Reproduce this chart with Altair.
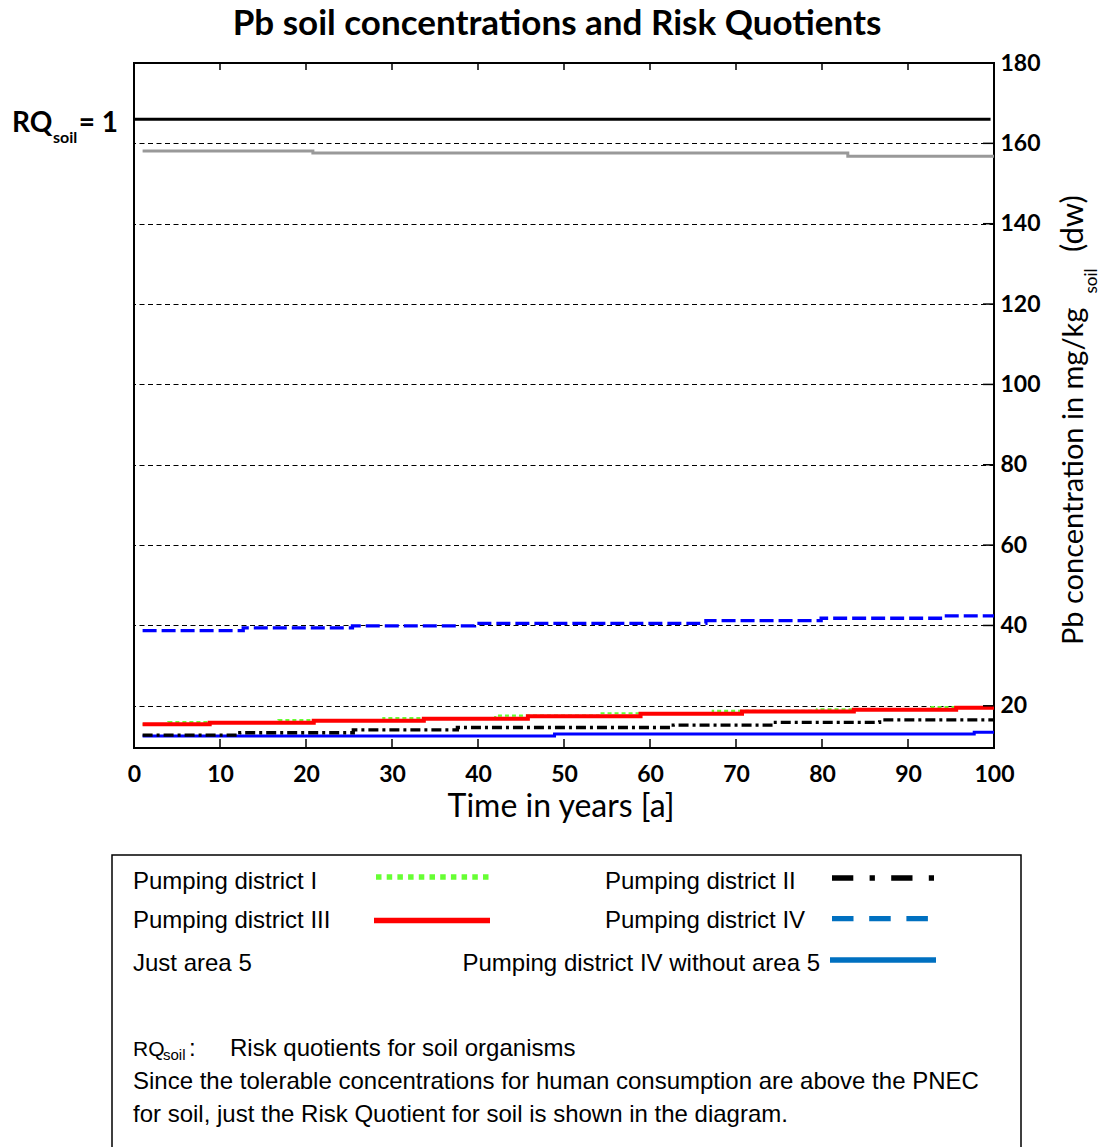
import altair as alt
import pandas as pd

# ---- data: Pb soil concentration (mg/kg dw) at the years where each series changes ----
rq_years = [0, 99.6]
rq_values = [166, 166]  # PNEC soil, i.e. RQ_soil = 1

area5_years = [1, 20.8, 83.0, 100]
area5_values = [158.1, 157.6, 156.8, 156.8]

d1_years = [1, 4.0, 16.8, 29.0, 42.0, 54.1, 67.3, 79.4, 92.5, 100]
d1_values = [15.4, 15.95, 16.45, 16.95, 17.55, 18.15, 18.75, 19.15, 19.65, 19.65]

d2_years = [1, 12.3, 25.5, 37.6, 62.7, 74.3, 86.7, 100]
d2_values = [12.7, 13.3, 14.0, 14.6, 15.2, 15.9, 16.5, 16.5]

d3_years = [1, 8.8, 20.9, 33.7, 45.8, 58.9, 70.7, 83.7, 95.6, 100]
d3_values = [15.4, 15.8, 16.3, 16.8, 17.4, 18.0, 18.6, 19.0, 19.5, 19.5]

d4_years = [1, 12.7, 25.4, 39.6, 66.5, 79.9, 94.0, 100]
d4_values = [38.7, 39.4, 39.9, 40.5, 41.2, 41.8, 42.4, 42.4]

d4x_years = [1, 48.9, 97.7, 100]
d4x_values = [12.5, 13.0, 13.4, 13.4]

x_ticks = [0, 10, 20, 30, 40, 50, 60, 70, 80, 90, 100]
y_ticks = [20, 40, 60, 80, 100, 120, 140, 160, 180]

legend_labels = [
    "Pumping district I",
    "Pumping district II",
    "Pumping district III",
    "Pumping district IV",
    "Just area 5",
    "Pumping district IV without area 5",
]
note_lines = [
    "Risk quotients for soil organisms",
    "Since the tolerable concentrations for human consumption are above the PNEC",
    "for soil, just the Risk Quotient for soil is shown in the diagram.",
]

series = [
    ("rq", rq_years, rq_values),
    ("area5", area5_years, area5_values),
    ("d1", d1_years, d1_values),
    ("d2", d2_years, d2_values),
    ("d3", d3_years, d3_values),
    ("d4", d4_years, d4_values),
    ("d4x", d4x_years, d4x_values),
]
rows = []
for key, yrs, vals in series:
    for yr, v in zip(yrs, vals):
        rows.append({"series": key, "year": yr, "value": v})
df = pd.DataFrame(rows)

# ---- layout ----
W, H = 860, 685
LEFT, TOP = 134, 63
TOTAL_W, TOTAL_H = 1104, 1147

CAL = "Lato"
ARIAL = "Liberation Sans"

x_scale = alt.Scale(domain=[0, 100], nice=False, zero=False)
y_scale = alt.Scale(domain=[9.5, 180], nice=False, zero=False)

x_axis = alt.Axis(
    values=x_ticks, title=None, ticks=False, tickSize=0, domain=False, grid=False,
    labelFont=CAL, labelFontWeight="bold", labelFontSize=23, labelColor="black",
    labelBaseline="alphabetic", labelPadding=33, labelFlush=False, labelOverlap=False,
)
y_axis = alt.Axis(
    orient="right", values=y_ticks, title=None, ticks=False, tickSize=0, domain=False,
    grid=True, gridColor="black", gridDash=[5, 3.5], gridWidth=1.2, gridOpacity=1,
    labelFont=CAL, labelFontWeight="bold", labelFontSize=23, labelColor="black",
    labelPadding=6, labelOverlap=False, labelFlush=False,
)

X = alt.X("year:Q", scale=x_scale, axis=x_axis)
Y = alt.Y("value:Q", scale=y_scale, axis=y_axis)


def series_line(key, color, width, dash=None):
    kw = dict(interpolate="step-after", color=color, strokeWidth=width, strokeCap="butt")
    if dash:
        kw["strokeDash"] = dash
    return (
        alt.Chart(df)
        .transform_filter(alt.datum.series == key)
        .mark_line(**kw)
        .encode(x=X, y=Y)
    )


one = pd.DataFrame({"k": [0]})


def text(t, x, y, size, weight="normal", font=CAL, align="left", angle=0):
    return alt.Chart(one).mark_text(
        text=t, font=font, fontSize=size, fontWeight=weight, align=align,
        baseline="alphabetic", angle=angle, color="black",
    ).encode(x=alt.value(x - LEFT), y=alt.value(y - TOP))


def sample(x1, x2, y, color, width, dash=None):
    kw = dict(color=color, strokeWidth=width, strokeCap="butt")
    if dash:
        kw["strokeDash"] = dash
    return alt.Chart(one).mark_rule(**kw).encode(
        x=alt.value(x1 - LEFT), x2=alt.value(x2 - LEFT), y=alt.value(y - TOP)
    )


# inward tick marks on the frame
inner_x = pd.DataFrame({"year": x_ticks[1:-1]})
inner_y = pd.DataFrame({"value": y_ticks[:-1]})
bottom_ticks = alt.Chart(inner_x).mark_rule(color="black", strokeWidth=1.5).encode(
    x=X, y=alt.value(H), y2=alt.value(H - 9))
top_ticks = alt.Chart(inner_x).mark_rule(color="black", strokeWidth=1.5).encode(
    x=X, y=alt.value(0), y2=alt.value(7))
right_ticks = alt.Chart(inner_y).mark_rule(color="black", strokeWidth=1.5).encode(
    y=Y, x=alt.value(W), x2=alt.value(W - 11))

PLOT_BLUE = "#0000FF"
LEG_BLUE = "#0070C0"
GREEN = "#66FF33"
GREY = "#999999"

lines = [
    series_line("area5", GREY, 3),
    series_line("rq", "black", 3),
    series_line("d4", PLOT_BLUE, 3.3, dash=[14, 5]),
    series_line("d1", GREEN, 2.2, dash=[4, 3]),
    series_line("d3", "#FF0000", 4),
    series_line("d4x", PLOT_BLUE, 3),
    series_line("d2", "black", 3.3, dash=[10, 4, 3, 4]),
]

annotations = [
    # chart title
    text("Pb soil concentrations and Risk Quotients", 557, 35, 35, weight="bold", align="center"),
    # x axis title
    text("Time in years [a]", 561, 817, 32, align="center"),
    # right axis title (rotated, with subscript)
    text("Pb concentration in mg/kg", 1083, 645, 29, angle=270),
    text("soil", 1097, 281, 17, align="center", angle=270),
    text("(dw)", 1083, 252, 31, angle=270),
    # RQ_soil = 1 marker label
    text("RQ", 12, 132, 28, weight="bold"),
    text("soil", 53, 143, 16, weight="bold"),
    text("= 1", 118, 132, 28, weight="bold", align="right"),
]

legend_box = alt.Chart(one).mark_rect(
    fill="white", fillOpacity=0, stroke="black", strokeWidth=1.5
).encode(
    x=alt.value(112 - LEFT), x2=alt.value(1021 - LEFT),
    y=alt.value(855 - TOP), y2=alt.value(1170 - TOP),
)

legend = [
    legend_box,
    text(legend_labels[0], 133, 889, 24, font=ARIAL),
    sample(376, 489, 877, GREEN, 5.5, dash=[5.5, 5.2]),
    text(legend_labels[1], 605, 889, 24, font=ARIAL),
    sample(832, 934, 878, "black", 5.3, dash=[21.3, 16.3, 5.3, 16.3]),
    text(legend_labels[2], 133, 928, 24, font=ARIAL),
    sample(374, 490, 920.5, "#FF0000", 5.3),
    text(legend_labels[3], 605, 928, 24, font=ARIAL),
    sample(832, 929, 918.7, LEG_BLUE, 5.3, dash=[21.5, 15.7]),
    text(legend_labels[4], 133, 971, 24, font=ARIAL),
    text(legend_labels[5], 820, 971, 24, font=ARIAL, align="right"),
    sample(830, 936, 960, LEG_BLUE, 5.3),
    text("RQ", 133, 1056, 21, font=ARIAL),
    text("soil", 163, 1060, 15, font=ARIAL),
    text(":", 189, 1056, 24, font=ARIAL),
    text(note_lines[0], 230, 1056, 24, font=ARIAL),
    text(note_lines[1], 133, 1089, 24, font=ARIAL),
    text(note_lines[2], 133, 1122, 24, font=ARIAL),
]

chart = (
    alt.layer(*lines, bottom_ticks, top_ticks, right_ticks, *annotations, *legend)
    .properties(
        width=W,
        height=H,
        autosize=alt.AutoSizeParams(type="none"),
        padding={"left": LEFT, "top": TOP, "right": TOTAL_W - LEFT - W, "bottom": TOTAL_H - TOP - H},
        background="white",
    )
    .configure_view(stroke="black", strokeWidth=2)
)

chart.save("out.html", embed_options={"renderer": "svg", "actions": False})
